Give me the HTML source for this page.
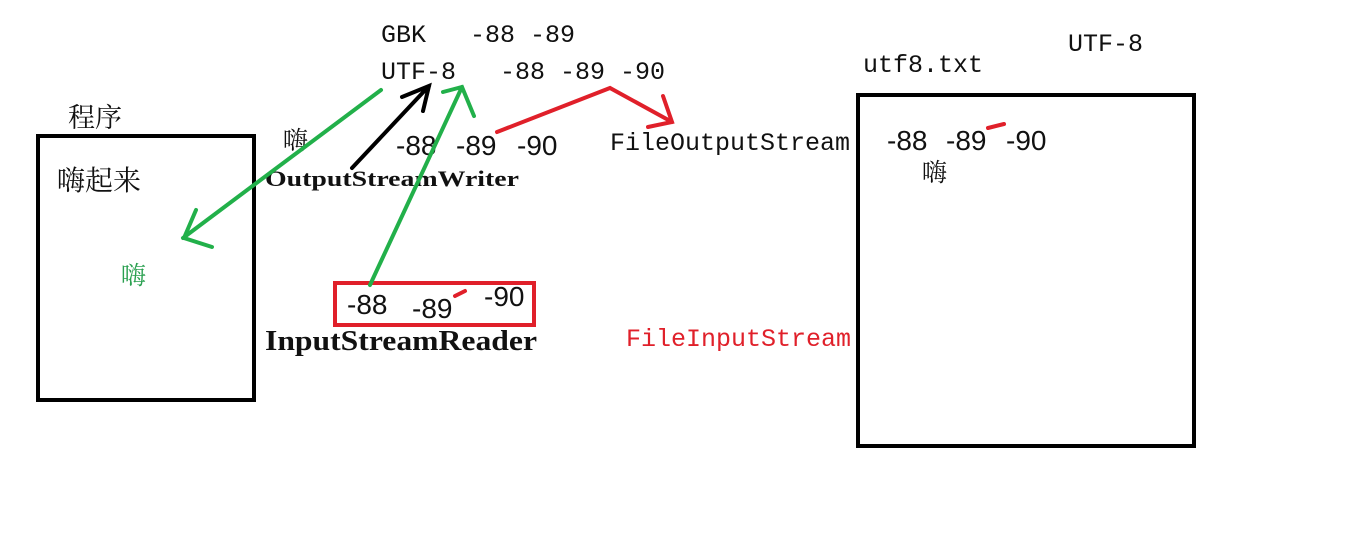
<!DOCTYPE html>
<html><head><meta charset="utf-8"><style>
html,body{margin:0;padding:0;background:#fff;}
svg{display:block;}
.m{font-family:"Liberation Mono","Noto Sans CJK SC",monospace;font-size:25px;}
.a{font-family:"Liberation Sans",sans-serif;}
.c{font-family:"Liberation Serif","Noto Serif CJK SC","Noto Sans CJK SC",serif;}
.b{font-family:"Liberation Serif",serif;font-weight:bold;}
</style></head><body>
<svg width="1356" height="555" viewBox="0 0 1356 555" xmlns="http://www.w3.org/2000/svg">
<rect x="0" y="0" width="1356" height="555" fill="#fff"/>
<rect x="38" y="136" width="216" height="264" fill="none" stroke="#000" stroke-width="4"/>
<rect x="858" y="95" width="336" height="351" fill="none" stroke="#000" stroke-width="4"/>
<rect x="335" y="283" width="199" height="42" fill="none" stroke="#e0202a" stroke-width="4"/>

<text class="m" x="381" y="42" fill="#111">GBK</text>
<text class="m" x="470" y="42" fill="#111">-88 -89</text>
<text class="m" x="381" y="79" fill="#111">UTF-8</text>
<text class="m" x="500" y="79" fill="#111">-88 -89 -90</text>
<text class="c" x="68" y="127" font-size="27" fill="#111">程序</text>
<text class="c" x="57" y="190" font-size="28" fill="#111">嗨起来</text>
<text class="c" x="121" y="284" font-size="25" fill="#2aa050">嗨</text>
<text class="c" x="283" y="149" font-size="25" fill="#111">嗨</text>
<g class="a" font-size="28" fill="#111">
<text x="396" y="155">-88</text><text x="456" y="155">-89</text><text x="517" y="155">-90</text>
<text x="347" y="314">-88</text><text x="412" y="318">-89</text><text x="484" y="306">-90</text>
<text x="887" y="150">-88</text><text x="946" y="150">-89</text><text x="1006" y="150">-90</text>
</g>
<text class="b" x="265" y="186" font-size="22" fill="#111" textLength="254" lengthAdjust="spacingAndGlyphs">OutputStreamWriter</text>
<text class="b" x="265" y="350" font-size="28" fill="#111" textLength="272" lengthAdjust="spacingAndGlyphs">InputStreamReader</text>
<text class="m" x="610" y="150" fill="#111">FileOutputStream</text>
<text class="m" x="626" y="346" fill="#e0202a">FileInputStream</text>
<text class="m" x="863" y="72" fill="#111">utf8.txt</text>
<text class="m" x="1068" y="51" fill="#111">UTF-8</text>
<text class="c" x="922" y="181" font-size="25" fill="#111">嗨</text>

<g stroke-linecap="round" fill="none">
<path d="M381 90 L183 238 M196 210 L184 238 L212 247" stroke="#22b04a" stroke-width="4"/>
<path d="M352 168 L429 86 M402 97 L429 86 L423 111" stroke="#000" stroke-width="4"/>
<path d="M370 285 L462 87 M443 92 L462 87 L474 116" stroke="#22b04a" stroke-width="4"/>
<path d="M497 132 L610 88 L672 122 M663 96 L672 122 L648 127" stroke="#e0202a" stroke-width="4"/>
<path d="M455 296 L465 291" stroke="#e0202a" stroke-width="4"/>
<path d="M988 128 L1004 124" stroke="#e0202a" stroke-width="4"/>
</g>
</svg>
</body></html>
